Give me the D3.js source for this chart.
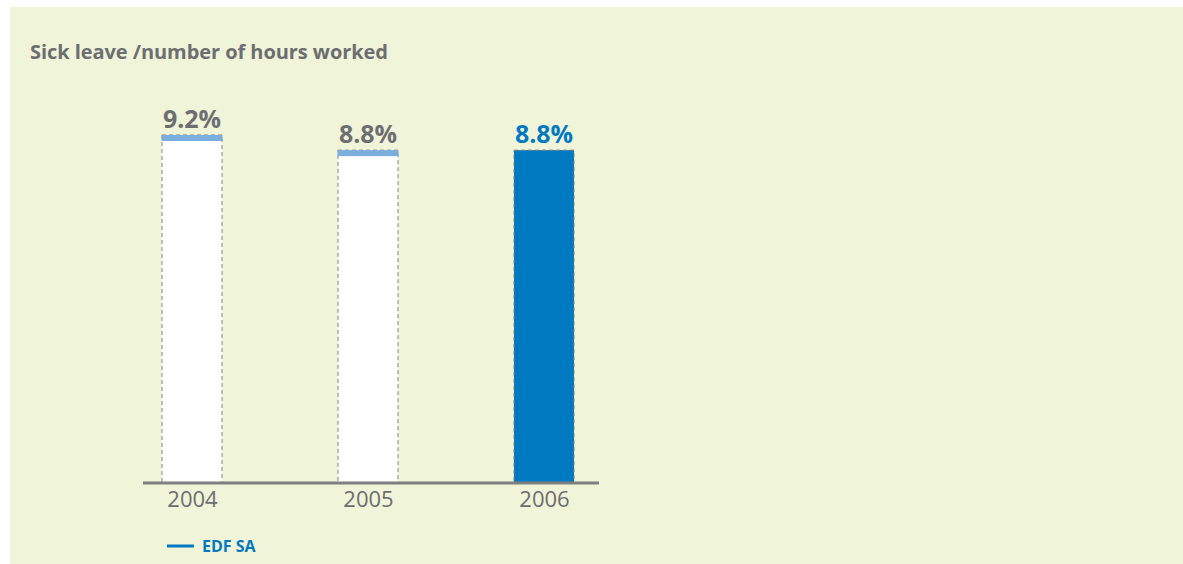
<!DOCTYPE html>
<html>
<head>
<meta charset="utf-8">
<script src="https://cdn.jsdelivr.net/npm/d3@7"></script>
<style>
body { margin: 0; background: #fff; }
svg { display: block; font-family: "Open Sans", sans-serif; }
</style>
</head>
<body>
<svg id="chart" width="1183" height="564"></svg>
<script>
// data
var years = ["2004", "2005", "2006"];
var values = [9.2, 8.8, 8.8];
var valueLabels = ["9.2%", "8.8%", "8.8%"];
var seriesName = "EDF SA";

var grey = "#6d6e71", blue = "#0079c1", capBlue = "#7aaedc";

var svg = d3.select("#chart");

svg.append("rect")
    .attr("x", 10).attr("y", 7)
    .attr("width", 1173).attr("height", 557)
    .attr("fill", "#f0f4d9");

svg.append("text")
    .attr("x", 30).attr("y", 59)
    .attr("fill", grey)
    .style("font-size", "20px")
    .style("font-weight", "bold")
    .attr("textLength", 358)
    .text("Sick leave /number of hours worked");

var baseY = 483;
var x = d3.scalePoint().domain(years).range([192, 544]);
var y = d3.scaleLinear().domain([0, 9.2]).range([baseY, 135]);
var barW = 60;

var data = years.map(function(d, i) { return {year: d, value: values[i], label: valueLabels[i], last: i == years.length - 1}; });

var g = svg.append("g");

g.selectAll(".bar")
    .data(data)
    .enter().append("rect")
    .attr("class", "bar")
    .attr("x", function(d) { return x(d.year) - barW / 2; })
    .attr("y", function(d) { return y(d.value); })
    .attr("width", barW)
    .attr("height", function(d) { return baseY - y(d.value); })
    .attr("fill", function(d) { return d.last ? blue : "#fff"; })
    .attr("stroke", "#808080")
    .attr("stroke-width", 1)
    .attr("stroke-dasharray", "4,3");

// light blue caps on the earlier years
g.selectAll(".cap")
    .data(data.filter(function(d) { return !d.last; }))
    .enter().append("rect")
    .attr("class", "cap")
    .attr("x", function(d) { return x(d.year) - barW / 2 - 0.5; })
    .attr("y", function(d) { return y(d.value); })
    .attr("width", barW + 1)
    .attr("height", 6)
    .attr("fill", capBlue);

g.selectAll(".val")
    .data(data)
    .enter().append("text")
    .attr("class", "val")
    .attr("x", function(d) { return x(d.year); })
    .attr("y", function(d) { return y(d.value) - 7; })
    .attr("text-anchor", "middle")
    .attr("fill", function(d) { return d.last ? blue : grey; })
    .style("font-size", "25px")
    .style("font-weight", "bold")
    .text(function(d) { return d.label; });

// axis
var axis = svg.append("g")
    .attr("transform", "translate(0," + baseY + ")")
    .call(d3.axisBottom(x).tickSize(0).tickPadding(8));
axis.select(".domain").remove();
axis.append("line")
    .attr("x1", 143).attr("x2", 599)
    .attr("stroke", "#7f7f7f").attr("stroke-width", 3);
axis.selectAll(".tick text")
    .attr("fill", grey)
    .style("font-family", "Open Sans, sans-serif")
    .style("font-size", "22px");

// legend
svg.append("line")
    .attr("x1", 167).attr("x2", 194)
    .attr("y1", 546).attr("y2", 546)
    .attr("stroke", blue).attr("stroke-width", 3);
svg.append("text")
    .attr("x", 202).attr("y", 552)
    .attr("fill", blue)
    .style("font-size", "16px")
    .style("font-weight", "bold")
    .text(seriesName);
</script>
</body>
</html>
